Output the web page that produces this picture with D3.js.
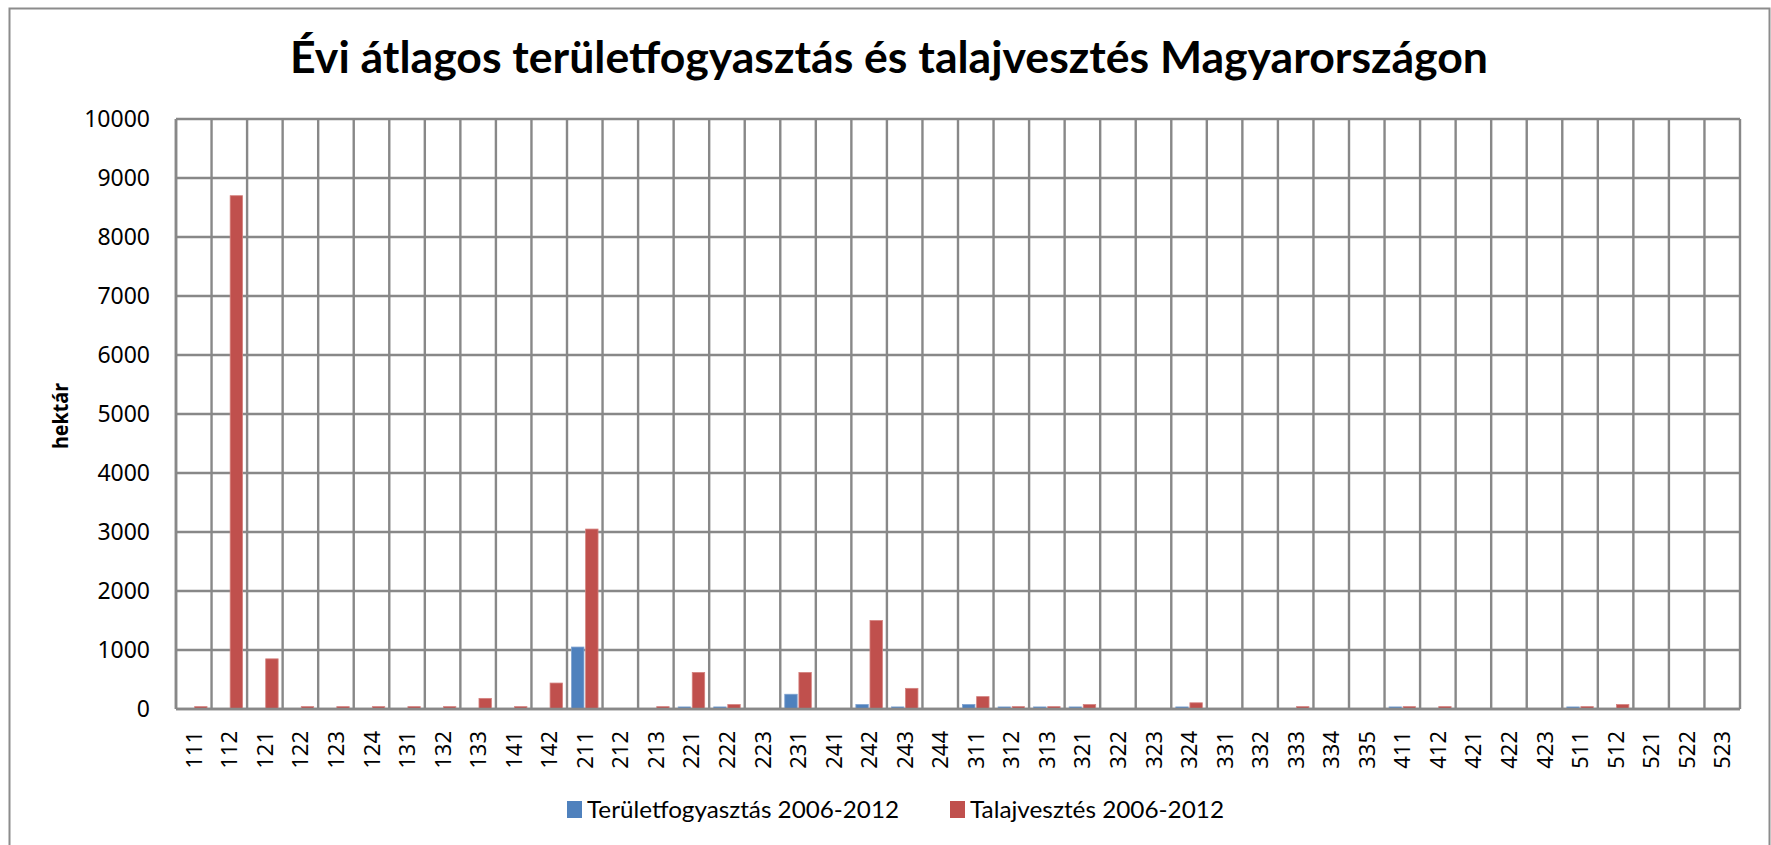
<!DOCTYPE html>
<html>
<head>
<meta charset="utf-8">
<script src="https://cdn.jsdelivr.net/npm/d3@7"></script>
<style>
  html, body { margin: 0; padding: 0; background: #fff; }
  svg { display: block; }
</style>
</head>
<body>
<svg id="chart" width="1771" height="845"></svg>
<script>
const categories = ["111","112","121","122","123","124","131","132","133","141","142",
  "211","212","213","221","222","223","231","241","242","243","244",
  "311","312","313","321","322","323","324","331","332","333","334","335",
  "411","412","421","422","423","511","512","521","522","523"];
const teruletfogyasztas = [0,0,0,0,0,0,0,0,0,0,0,
  1050,0,0,35,35,0,250,0,75,35,0,
  75,35,35,35,0,0,35,0,0,0,0,0,
  35,0,0,0,0,35,0,0,0,0];
const talajvesztes = [40,8700,850,40,40,40,40,40,180,40,440,
  3050,0,40,620,75,0,620,0,1500,350,0,
  210,40,40,75,0,0,105,0,0,40,0,0,
  40,40,0,0,0,40,75,0,0,0];
const seriesNames = ["Területfogyasztás 2006-2012", "Talajvesztés 2006-2012"];
const seriesColors = ["#4F81BD", "#C0504D"];
const seriesStroke = ["#7EA1CF", "#D4827F"];
const yTicks = [0,1000,2000,3000,4000,5000,6000,7000,8000,9000,10000];
const titleText = "Évi átlagos területfogyasztás és talajvesztés Magyarországon";
const yTitle = "hektár";

const svg = d3.select("#chart");
const plot = { left: 176, right: 1740, top: 119, bottom: 709 };

// chart border
svg.append("rect").attr("x", 9.5).attr("y", 8.5).attr("width", 1760).attr("height", 845)
  .attr("fill", "#fff").attr("stroke", "#8c8c8c").attr("stroke-width", 2);

const x = d3.scaleBand().domain(categories).range([plot.left, plot.right]).paddingInner(0).paddingOuter(0);
const y = d3.scaleLinear().domain([0, 10000]).range([plot.bottom, plot.top]);
const inner = d3.scaleBand().domain([0, 1]).range([4.5, x.bandwidth() - 4.5]).paddingInner(0.12).paddingOuter(0);

const grid = svg.append("g");
grid.selectAll("line.h").data(yTicks).join("line")
  .attr("x1", plot.left).attr("x2", plot.right)
  .attr("y1", d => y(d)).attr("y2", d => y(d))
  .attr("stroke", "#888").attr("stroke-width", 2.4);
const bounds = categories.map(c => x(c)).concat([plot.right]);
grid.selectAll("line.v").data(bounds).join("line")
  .attr("x1", d => d).attr("x2", d => d)
  .attr("y1", plot.top).attr("y2", plot.bottom)
  .attr("stroke", "#888").attr("stroke-width", 2.4);

// bars
const seriesData = [teruletfogyasztas, talajvesztes];
seriesData.forEach((vals, si) => {
  svg.append("g").selectAll("rect").data(vals.map((v, i) => ({ c: categories[i], v })).filter(d => d.v > 0))
    .join("rect")
    .attr("x", d => x(d.c) + inner(si))
    .attr("width", inner.bandwidth())
    .attr("y", d => y(d.v))
    .attr("height", d => y(0) - y(d.v))
    .attr("fill", seriesColors[si])
    .attr("stroke", seriesStroke[si]).attr("stroke-width", 0.8);
});

svg.append("line").attr("x1", plot.left).attr("x2", plot.right)
  .attr("y1", y(0)).attr("y2", y(0)).attr("stroke", "#888").attr("stroke-width", 2.6);
svg.append("line").attr("x1", plot.left).attr("x2", plot.left)
  .attr("y1", plot.top).attr("y2", plot.bottom).attr("stroke", "#888").attr("stroke-width", 2.6);

// y axis labels
const yAxis = d3.axisLeft(y).tickValues(yTicks).tickSize(0).tickPadding(26).tickFormat(d3.format("d"));
const gy = svg.append("g").attr("transform", `translate(${plot.left},0)`).call(yAxis);
gy.select(".domain").remove();
gy.selectAll("text").attr("font-family", "'Noto Sans', sans-serif").attr("font-size", 23).attr("fill", "#000");

// x axis labels
const xAxis = d3.axisBottom(x).tickSize(0).tickPadding(0);
const gx = svg.append("g").attr("transform", `translate(0,${plot.bottom})`).call(xAxis);
gx.select(".domain").remove();
gx.selectAll("text")
  .attr("font-family", "'Noto Sans', sans-serif").attr("font-size", 22).attr("fill", "#000")
  .attr("text-anchor", "end").attr("dy", null).attr("y", null)
  .attr("transform", "translate(8,22) rotate(-90)");

// title
svg.append("text").attr("x", 889).attr("y", 73).attr("text-anchor", "middle")
  .attr("font-family", "Lato, 'Noto Sans', sans-serif").attr("font-weight", "bold").attr("font-size", 44)
  .attr("textLength", 1198).attr("lengthAdjust", "spacingAndGlyphs")
  .text(titleText);

// y title
svg.append("text").attr("transform", "translate(68,416) rotate(-90)").attr("text-anchor", "middle")
  .attr("font-family", "'Noto Sans', sans-serif").attr("font-weight", "bold").attr("font-size", 21)
  .attr("textLength", 66).attr("lengthAdjust", "spacingAndGlyphs")
  .text(yTitle);

// legend
const legendItems = [
  { name: seriesNames[0], color: seriesColors[0], sx: 567, tx: 587, tw: 312 },
  { name: seriesNames[1], color: seriesColors[1], sx: 950, tx: 970, tw: 254 }
];
const lg = svg.append("g");
lg.selectAll("rect").data(legendItems).join("rect")
  .attr("x", d => d.sx).attr("y", 801).attr("width", 15).attr("height", 17)
  .attr("fill", d => d.color);
lg.selectAll("text").data(legendItems).join("text")
  .attr("x", d => d.tx).attr("y", 818)
  .attr("font-family", "Lato, 'Noto Sans', sans-serif").attr("font-size", 23)
  .attr("textLength", d => d.tw).attr("lengthAdjust", "spacingAndGlyphs")
  .text(d => d.name);
</script>
</body>
</html>
